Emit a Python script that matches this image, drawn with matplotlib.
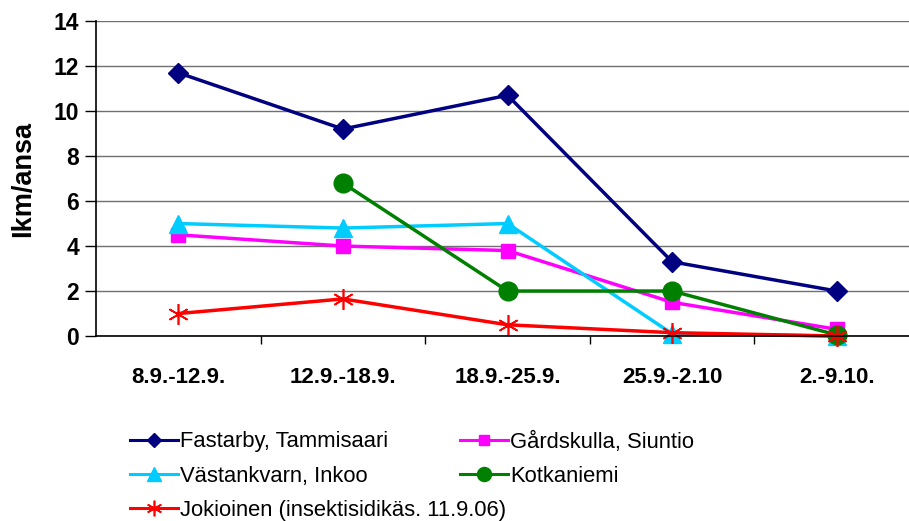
import numpy as np
import matplotlib
matplotlib.use("Agg")
import matplotlib.pyplot as plt
from matplotlib.lines import Line2D

plt.rcParams['font.family'] = ['Liberation Sans', 'DejaVu Sans']

periods = ["8.9.-12.9.", "12.9.-18.9.", "18.9.-25.9.", "25.9.-2.10", "2.-9.10."]
fastarby = [11.7, 9.2, 10.7, 3.3, 2.0]
gardskulla = [4.5, 4.0, 3.8, 1.5, 0.3]
vastankvarn = [5.0, 4.8, 5.0, 0.1, 0.0]
kotkaniemi = [np.nan, 6.8, 2.0, 2.0, 0.05]
jokioinen = [1.0, 1.65, 0.5, 0.15, 0.0]

series = [
    ("Fastarby, Tammisaari", fastarby, '#000080', 'D', 10),
    ("Gårdskulla, Siuntio", gardskulla, '#FF00FF', 's', 10.5),
    ("Västankvarn, Inkoo", vastankvarn, '#00CCFF', '^', 12.5),
    ("Kotkaniemi", kotkaniemi, '#008000', 'o', 13.5),
    ("Jokioinen (insektisidikäs. 11.9.06)", jokioinen, '#FF0000', (6, 2, 0), 15),
]

fig = plt.figure(figsize=(9.09, 5.21), dpi=100)
ax = fig.add_axes([0.1056, 0.355, 0.9055, 0.6046])

x = np.arange(len(periods))
handles = {}
for name, vals, color, marker, ms in series:
    mk = dict(marker=marker, markersize=ms, color=color, lw=2.5,
              markerfacecolor=color, markeredgecolor=color, clip_on=False)
    if marker == (6, 2, 0):
        mk['markeredgewidth'] = 1.2
    ax.plot(x, vals, **mk)
    lk = dict(mk)
    lk['markersize'] = ms * 0.75
    lk['lw'] = 2.2
    handles[name] = Line2D([], [], **{k: v for k, v in lk.items() if k != 'clip_on'})

ax.set_xlim(-0.5, len(periods) - 0.5)
ax.set_ylim(0, 14)
ax.set_yticks(range(0, 15, 2))
ax.set_xticks(x)
ax.set_xticklabels(periods, fontsize=16, fontweight='bold')
ax.set_xticks(np.arange(0.5, len(periods) - 1, 1), minor=True)
ax.tick_params(axis='x', which='major', length=0, pad=22)
ax.tick_params(axis='x', which='minor', length=6, width=1, direction='out')
ax.tick_params(axis='y', length=8, width=1, direction='out', pad=4)
for lbl in ax.get_yticklabels():
    lbl.set_fontsize(16.5)
    lbl.set_fontweight('bold')
ax.grid(axis='y', color='#707070', lw=1)
ax.set_axisbelow(True)
for s in ['top', 'right']:
    ax.spines[s].set_visible(False)
ax.spines['left'].set_linewidth(1.2)
ax.spines['bottom'].set_linewidth(1.2)
ax.set_ylabel("Ikm/ansa", fontsize=19.5, fontweight='bold', labelpad=13)

left_names = [series[0][0], series[2][0], series[4][0]]
right_names = [series[1][0], series[3][0]]
common = dict(frameon=False, loc='upper left', borderpad=0, handlelength=2.2,
              handletextpad=0.1, labelspacing=0.6, fontsize=15.8, borderaxespad=0)
fig.legend([handles[n] for n in left_names], left_names,
           bbox_to_anchor=(0.143, 0.172), **common)
fig.legend([handles[n] for n in right_names], right_names,
           bbox_to_anchor=(0.506, 0.172), **common)

fig.savefig("out.png", dpi=100)
